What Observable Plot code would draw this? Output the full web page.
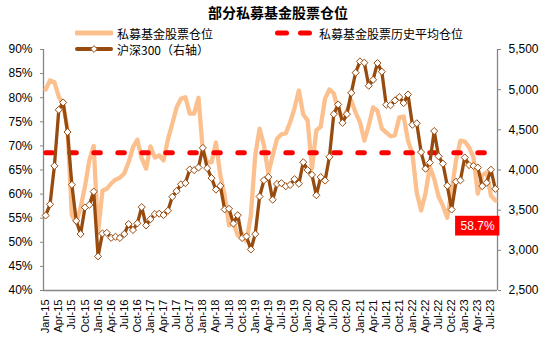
<!DOCTYPE html>
<html><head><meta charset="utf-8">
<script src="https://cdn.jsdelivr.net/npm/d3@7"></script>
<script src="https://cdn.jsdelivr.net/npm/@observablehq/plot@0.6"></script>
<style>
body{margin:0;background:#fff;}
#chart{position:relative;width:541px;height:341px;overflow:hidden;}
.cn{font-family:"Noto Sans CJK SC","Noto Sans",sans-serif;color:#000;}
#title{position:absolute;left:208px;top:2px;font-size:14px;font-weight:700;white-space:nowrap;}
.leg{position:absolute;font-size:12px;white-space:nowrap;display:flex;align-items:center;height:16px;}
.leg svg{margin-right:4px;}
</style></head>
<body>
<div id="chart">
  <div id="title" class="cn">部分私募基金股票仓位</div>
</div>
<script>
// ---- data (Jan-15 .. Aug-23, monthly) ----
const positionPct = [
81.7,83.6,83.2,80.2,78.5,73.5,55.6,54.1,57.2,61.6,67.0,70.0,
52.0,60.7,61.1,62.2,63.0,63.4,64.3,66.6,69.7,71.3,67.4,65.3,
69.9,67.6,68.0,67.0,71.3,74.6,78.0,79.8,80.1,76.7,76.7,80.0,
69.0,66.6,66.6,70.7,63.9,59.7,53.5,54.1,51.4,51.8,50.2,55.6,
68.0,73.6,70.1,64.3,68.0,71.5,72.4,72.6,74.9,77.8,81.5,76.5,
75.3,65.3,73.2,74.0,79.8,81.7,80.9,77.3,75.7,77.3,79.4,76.9,
74.9,71.1,74.2,78.0,77.3,73.6,72.8,72.0,72.2,75.9,76.1,71.1,
68.4,60.3,56.6,60.1,65.7,63.2,59.5,57.6,55.1,60.7,67.0,71.1,
70.9,69.7,67.6,60.1,63.9,64.5,59.7,58.7];
const hs300 = [
3434,3573,4051,4749,4841,4473,3816,3367,3203,3534,3566,3731,
2925,3210,3218,3156,3169,3154,3203,3327,3253,3336,3538,3310,
3387,3452,3456,3439,3493,3666,3737,3822,3837,4006,3998,4031,
4275,4023,3899,3756,3802,3510,3517,3334,3438,3153,3173,3011,
3202,3670,3873,3913,3630,3826,3836,3799,3814,3886,3829,4097,
3999,3940,3686,3912,3868,4164,4695,4816,4587,4695,4960,5211,
5352,5336,5049,5123,5331,5224,4812,4806,4866,4908,4833,4940,
4564,4581,4223,4016,4091,4485,4170,4079,3804,3508,3854,3872,
4156,4061,4051,4030,3799,3842,4003,3765];
const avgPosition = 68.6;
const xTickLabels = ["Jan-15","Apr-15","Jul-15","Oct-15","Jan-16","Apr-16","Jul-16","Oct-16",
"Jan-17","Apr-17","Jul-17","Oct-17","Jan-18","Apr-18","Jul-18","Oct-18",
"Jan-19","Apr-19","Jul-19","Oct-19","Jan-20","Apr-20","Jul-20","Oct-20",
"Jan-21","Apr-21","Jul-21","Oct-21","Jan-22","Apr-22","Jul-22","Oct-22",
"Jan-23","Apr-23","Jul-23"];
const leftTicks = [40,45,50,55,60,65,70,75,80,85,90];
const rightTicks = [2500,3000,3500,4000,4500,5000,5500];
const seriesNames = ["私募基金股票仓位","沪深300（右轴）","私募基金股票历史平均仓位"];

// ---- build ----
const C_POS = "#FBC08E", C_HS = "#974B0E", C_AVG = "#FF0000", C_AX = "#868686";
const toPct = v => 40 + (v - 2500) / 3000 * 50;
const fromPct = p => 2500 + (p - 40) * 60;
const rows = hs300.map((v, i) => ({i, pos: positionPct[i], hs: toPct(v)}));
const last = rows[rows.length - 1];
const n = rows.length;

const plot = Plot.plot({
  width: 541, height: 341,
  marginLeft: 43, marginRight: 44, marginTop: 49, marginBottom: 51,
  x: {domain: [-0.5, n - 0.5]},
  y: {domain: [40, 90]},
  style: {fontFamily: "'Liberation Sans', Arial, sans-serif", fontSize: "12px", color: "#000", background: "transparent", overflow: "visible"},
  marks: [
    Plot.ruleX([-0.5], {stroke: C_AX, strokeWidth: 1.3}),
    Plot.ruleX([n - 0.5], {stroke: C_AX, strokeWidth: 1.3}),
    Plot.ruleY([40], {stroke: C_AX, strokeWidth: 1.3}),
    Plot.axisY({ticks: leftTicks, tickFormat: d => d + "%", tickSize: 3, tickPadding: 8, stroke: C_AX, label: null, fontSize: 12}),
    Plot.axisY({anchor: "right", ticks: rightTicks.map(toPct), tickFormat: d => d3.format(",")(Math.round(fromPct(d))), tickSize: 3, tickPadding: 8, stroke: C_AX, label: null, fontSize: 12}),
    Plot.axisX({ticks: xTickLabels.map((_, k) => k * 3), tickFormat: d => xTickLabels[Math.round(d / 3)], tickRotate: -90, tickSize: 0, tickPadding: 9, label: null, fontSize: 11}),
    Plot.line(rows, {x: "i", y: "pos", stroke: C_POS, strokeWidth: 4.3, strokeLinejoin: "round", strokeLinecap: "round"}),
    Plot.ruleY([avgPosition], {stroke: C_AVG, strokeWidth: 5, strokeDasharray: "6.5,17.5", strokeDashoffset: -2.8, strokeLinecap: "round"}),
    Plot.line(rows, {x: "i", y: "hs", stroke: C_HS, strokeWidth: 3.3, strokeLinejoin: "round"}),
    Plot.dot(rows, {x: "i", y: "hs", symbol: "diamond2", r: 3.2, fill: "white", stroke: C_HS, strokeWidth: 1}),
    Plot.rect([last], {x1: d => d.i - 9.1, x2: d => d.i + 1.05, y1: d => d.pos - 7.4, y2: d => d.pos - 3.3, fill: C_AVG}),
    Plot.text([last], {x: d => d.i - 4.05, y: d => d.pos - 5.35, text: d => d.pos.toFixed(1) + "%", fill: "white", fontSize: 12})
  ]
});
const chart = document.getElementById("chart");
chart.appendChild(plot);

// ---- legend ----
function legendItem(left, top, swatch, label) {
  const d = document.createElement("div");
  d.className = "leg cn";
  d.style.left = left + "px"; d.style.top = top + "px";
  d.innerHTML = swatch + "<span>" + label + "</span>";
  chart.appendChild(d);
}
legendItem(75, 25, `<svg width="38" height="10"><line x1="2" y1="5" x2="36" y2="5" stroke="${C_POS}" stroke-width="5" stroke-linecap="round"/></svg>`, seriesNames[0]);
legendItem(75, 41, `<svg width="38" height="10"><line x1="2" y1="5" x2="36" y2="5" stroke="${C_HS}" stroke-width="4" stroke-linecap="round"/><path d="M19,1.6L22.4,5L19,8.4L15.6,5Z" fill="white" stroke="${C_HS}" stroke-width="1"/></svg>`, seriesNames[1]);
legendItem(275, 25, `<svg width="40" height="10"><line x1="2.5" y1="5" x2="37.5" y2="5" stroke="${C_AVG}" stroke-width="5" stroke-dasharray="9,14" stroke-linecap="round"/></svg>`, seriesNames[2]);
</script>
</body></html>
